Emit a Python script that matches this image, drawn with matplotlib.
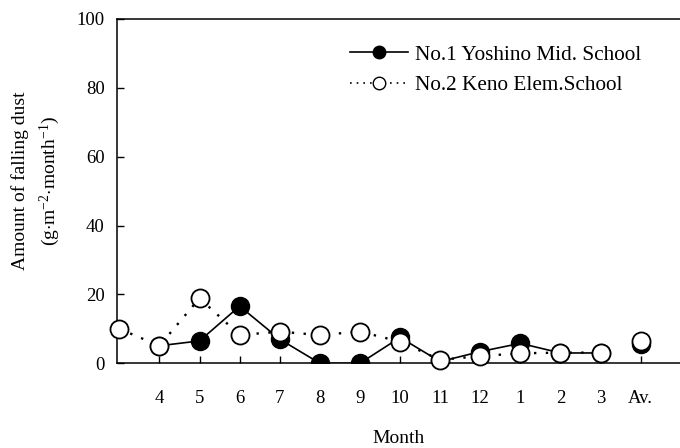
import numpy as np
import matplotlib
matplotlib.use('Agg')
from matplotlib import pyplot as plt

plt.rcParams['font.family'] = ['Liberation Serif', 'DejaVu Serif']
plt.rcParams['mathtext.fontset'] = 'custom'
plt.rcParams['mathtext.rm'] = 'Liberation Serif'
plt.rcParams['mathtext.it'] = 'Liberation Serif:italic'

# 月別降下ばいじん量 (g/m2/month)
tick_labels = ['4', '5', '6', '7', '8', '9', '10', '11', '12', '1', '2', '3', 'Av.']
no2_prev_march = 10.0
no1_values = [5.1, 6.5, 16.6, 7.0, 0.0, 0.0, 7.5, 0.5, 3.4, 5.8, 3.0, 3.0]
no1_av = 5.5
no2_values = [5.1, 18.9, 8.2, 9.2, 8.2, 9.2, 6.3, 1.0, 2.1, 2.9, 3.1, 3.1]
no2_av = 6.5

name1 = 'No.1 Yoshino Mid. School'
name2 = 'No.2 Keno Elem.School'

# positions: 3 = March of previous year, 4..15 = Apr..Mar, 16 = average
pos_months = np.arange(4, 4 + len(no1_values))
pos_av = 4 + len(no1_values)
pos_prev = 3

fig = plt.figure(figsize=(6.8, 4.48), dpi=100)
ax = fig.add_axes([117.3 / 680, 84.7 / 448, (680 - 117.3) / 680, (429 - 84.7) / 448])

ms = 13
# No.1 solid, filled
ax.plot(pos_months, no1_values, '-', color='black', lw=1.2, zorder=2)
ax.plot(pos_months, no1_values, 'o', color='black', ms=ms, zorder=3)
ax.plot([pos_av], [no1_av], 'o', color='black', ms=ms, zorder=3)

# No.2 dotted, open
x2 = np.concatenate([[pos_prev], pos_months])
y2 = np.concatenate([[no2_prev_march], no2_values])
ax.plot(x2, y2, linestyle=(0, (1, 4)), color='black', lw=1.7, zorder=1)
ax.plot(x2, y2, 'o', mfc='white', mec='black', mew=1.3, ms=ms, zorder=4, clip_on=False)
ax.plot([pos_av], [no2_av], 'o', mfc='white', mec='black', mew=1.3, ms=ms, zorder=4)

# legend handles
h1, = ax.plot([], [], '-o', color='black', lw=1.2, ms=9, label=name1)
h2, = ax.plot([], [], linestyle=(0, (1, 3)), marker='o', color='black', lw=1.2,
              mfc='white', mec='black', mew=1.0, ms=9, label=name2)
ax.legend(handles=[h1, h2], loc='upper left', bbox_to_anchor=(350 / 680, 1 - 45 / 448),
          bbox_transform=fig.transFigure, frameon=False, fontsize=15.3,
          handlelength=2.75, handletextpad=0.3, labelspacing=0.5, borderpad=0, borderaxespad=0)

ax.set_xlim(2.95, 16.98)
ax.set_ylim(0, 100)
ax.set_xticks(np.arange(4, pos_av + 1))
ax.set_xticklabels(tick_labels)
ax.set_yticks([0, 20, 40, 60, 80, 100])
ax.tick_params(axis='x', direction='in', length=5, width=1, pad=19, labelsize=13.5)
ax.tick_params(axis='y', direction='in', length=5, width=1, pad=9, labelsize=13.5)
ax.spines['right'].set_visible(False)
for s in ['left', 'top', 'bottom']:
    ax.spines[s].set_linewidth(1.1)

ax.set_xlabel('Month', fontsize=14, labelpad=17)
fig.text(37 / 680, 1 - 181 / 448,
         'Amount of falling dust\n' + r'(g$\cdot$m$^{-2}$$\cdot$month$^{-1}$)',
         rotation=90, ha='center', va='center', fontsize=14, multialignment='center',
         linespacing=1.5)

fig.savefig('out.png', dpi=100)
